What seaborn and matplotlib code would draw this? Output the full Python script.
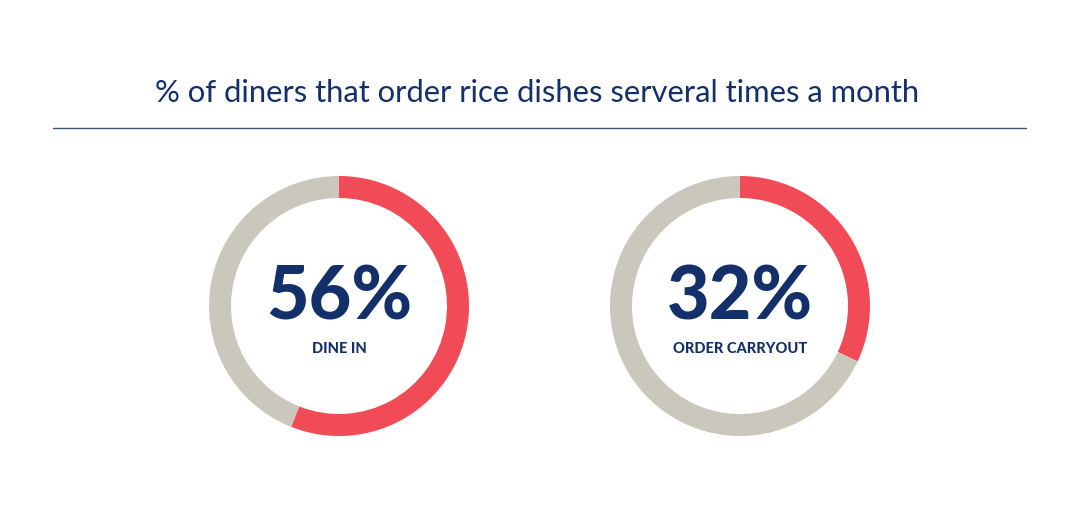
import matplotlib
matplotlib.use("Agg")
import matplotlib.pyplot as plt
import seaborn as sns

# Data
groups = ["DINE IN", "ORDER CARRYOUT"]
percents = [56, 32]
title = "% of diners that order rice dishes serveral times a month"

RED = "#F04B56"
GRAY = "#CCC7BD"
NAVY = "#13306A"

sns.set_theme(style="white")
plt.rcParams["font.family"] = ["Lato", "DejaVu Sans"]

fig = plt.figure(figsize=(10.8, 5.1), dpi=100)
fig.patch.set_facecolor("white")

# title and rule
fig.text(0.497, 0.818, title, ha="center", va="center",
         fontsize=22.3, color=NAVY)
fig.add_artist(plt.Line2D([53 / 1080, 1026 / 1080], [1 - 129 / 510, 1 - 129 / 510],
                          color="#3E4F75", linewidth=1.0))

# donut positions in pixels (center x), same center y and radius
centers_x = [339, 740]
cy, r = 307, 130
for cx, pct, label in zip(centers_x, percents, groups):
    ax = fig.add_axes([(cx - r) / 1080, (510 - cy - r) / 510, 2 * r / 1080, 2 * r / 510])
    ax.pie([pct, 100 - pct], colors=[RED, GRAY], startangle=90, counterclock=False,
           wedgeprops=dict(width=22 / 130, edgecolor="none"))
    ax.set_xlim(-1, 1)
    ax.set_ylim(-1, 1)
    ax.set_aspect("equal")
    ax.axis("off")
    ax.text(0, 0.07, f"{pct}%", ha="center", va="center", fontsize=53,
            fontweight="black", color=NAVY)
    ax.text(0, -0.32, label, ha="center", va="center", fontsize=10.5,
            fontweight="black", color=NAVY)

fig.savefig("out.png", dpi=100, facecolor="white")
